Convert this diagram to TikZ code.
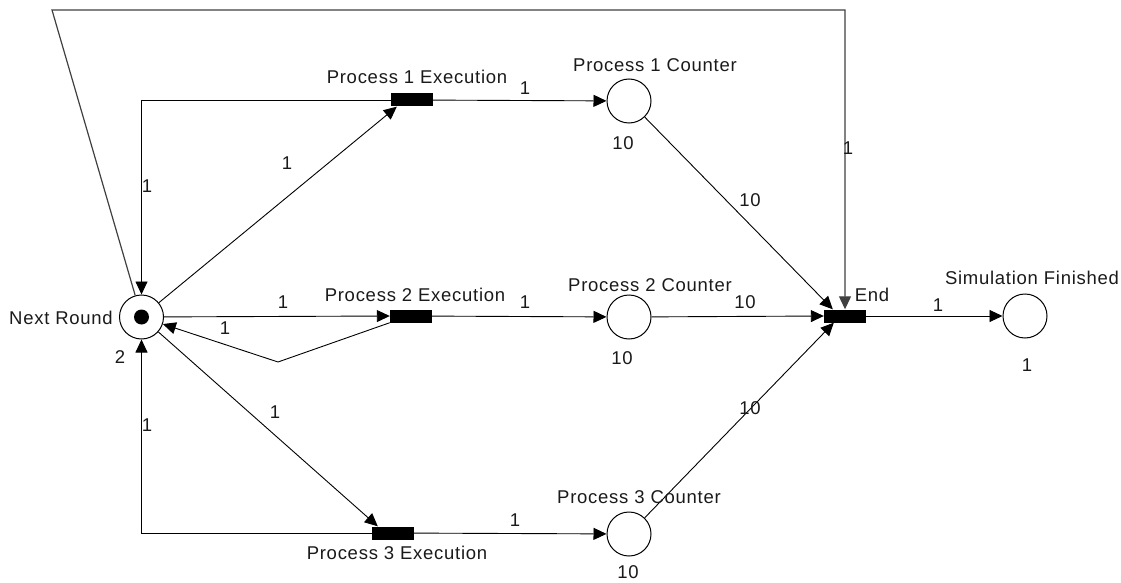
\documentclass[tikz,border=0pt]{standalone}
\usepackage{fontspec}
\setmainfont{Liberation Sans}[LetterSpace=4]
\usetikzlibrary{arrows.meta,calc}
\definecolor{txt}{HTML}{1A1A1A}
\definecolor{topline}{HTML}{404040}
\begin{document}
\begin{tikzpicture}[x=1pt,y=-1pt,
  place/.style={circle,draw,line width=1pt,minimum size=44pt,inner sep=0pt},
  trans/.style={rectangle,fill=black,minimum width=42pt,minimum height=13pt,inner sep=0pt},
  arc/.style={line width=0.9pt,-{Triangle[length=13pt,width=12pt]}},
  lbl/.style={font=\fontsize{18.5}{20}\selectfont,text=txt,inner sep=0pt}]
\useasboundingbox (0,0) rectangle (1121,583);
% places
\node[place] (NR) at (141.5,317) {};
\fill (NR.center) circle (7.5pt);
\node[place] (P1C) at (629,101) {};
\node[place] (P2C) at (629,317) {};
\node[place] (P3C) at (629,534) {};
\node[place] (SF) at (1025,316) {};
% transitions
\node[trans] (T1) at (412,100) {};
\node[trans] (T2) at (411,316) {};
\node[trans] (T3) at (393,533) {};
\node[trans] (End) at (845,316) {};
% helper coordinates
\coordinate (c1) at (52,10);
\coordinate (c2) at (845,10);
\coordinate (b2) at (278,362);
% arcs
\draw[arc] (NR) -- ($(T1.south west)+(6,0)$);
\draw[arc] (NR) -- (T2.west);
\draw[arc] (NR) -- ($(T3.north west)+(6,0)$);
\draw[arc] (T1.west) -| (NR);
\draw[arc] (T3.west) -| (NR);
\draw[arc] (T2.south west) -- (b2) -- (NR);
\draw[arc] (T1) -- (P1C);
\draw[arc] (T2) -- (P2C);
\draw[arc] (T3) -- (P3C);
\draw[arc] (P1C) -- ($(End.north west)+(9,0)$);
\draw[arc] (P2C) -- (End.west);
\draw[arc] (P3C) -- ($(End.south west)+(10,0)$);
\draw[arc] (End) -- (SF);
\draw[arc,line width=1.2pt,draw=topline] (NR) -- (c1) -- (c2) -- (End.north);
% place and transition names
\node[lbl,anchor=east] (tNR) at (113,318) {Next Round};
\node[lbl] (mNR) at (120,357) {2};
\node[lbl] (tT1) at (417,77) {Process 1 Execution};
\node[lbl] (tT2) at (415,295) {Process 2 Execution};
\node[lbl] (tT3) at (397,553) {Process 3 Execution};
\node[lbl] (tP1) at (655,65) {Process 1 Counter};
\node[lbl] (tP2) at (650,285) {Process 2 Counter};
\node[lbl] (tP3) at (639,497) {Process 3 Counter};
\node[lbl] (mP1) at (623,143) {10};
\node[lbl] (mP2) at (622,358) {10};
\node[lbl] (mP3) at (628,572) {10};
\node[lbl] (tEnd) at (872,295) {End};
\node[lbl] (tSF) at (1032,278) {Simulation Finished};
\node[lbl] (mSF) at (1027,365) {1};
% arc weights
\node[lbl] (w1) at (525,88) {1};
\node[lbl] (w2) at (525,302) {1};
\node[lbl] (w3) at (515,520) {1};
\node[lbl] (w4) at (750,200) {10};
\node[lbl] (w5) at (745,302) {10};
\node[lbl] (w6) at (750,408) {10};
\node[lbl] (w7) at (938,305) {1};
\node[lbl] (w8) at (287,163) {1};
\node[lbl] (w9) at (283,302) {1};
\node[lbl] (w10) at (275,412) {1};
\node[lbl] (w11) at (147,186) {1};
\node[lbl] (w12) at (147,425) {1};
\node[lbl] (w13) at (225,328) {1};
\node[lbl] (w14) at (848,148) {1};
\end{tikzpicture}
\end{document}
